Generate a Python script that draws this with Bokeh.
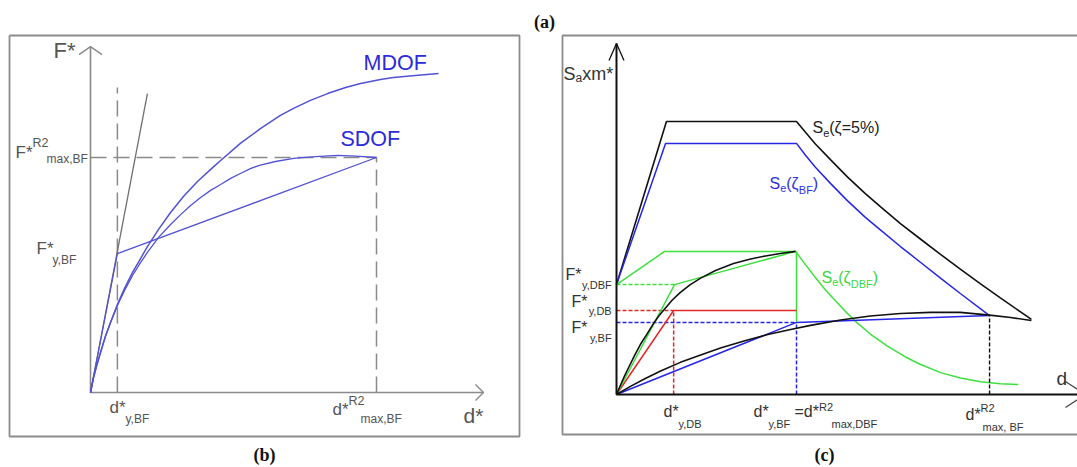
from bokeh.plotting import figure
from bokeh.models import Range1d
from bokeh.core.properties import value
from bokeh.embed import file_html
from bokeh.resources import INLINE

W, H = 1077, 467

# ---------------- Panel (b): capacity curves, F* vs d* ----------------
b_mdof_d = [0, 0.10, 0.21, 0.35, 0.52, 0.70, 0.94, 1.19, 1.47, 1.75, 1.99, 2.38, 2.80, 3.25,
            3.74, 4.27, 4.55, 5.24, 5.94, 6.64, 7.10, 7.69, 8.29, 8.92, 9.44, 10.14, 10.59,
            11.36, 12.17]
b_mdof_F = [0, 0.60, 1.11, 1.70, 2.38, 2.98, 3.74, 4.43, 5.11, 5.70, 6.21, 6.94, 7.66, 8.34,
            8.98, 9.57, 9.87, 10.60, 11.23, 11.79, 12.09, 12.43, 12.72, 12.98, 13.15, 13.32,
            13.40, 13.49, 13.57]
b_sdof_d = [0, 0.10, 0.21, 0.35, 0.52, 0.70, 0.94, 1.19, 1.47, 1.75, 1.99, 2.38, 2.80, 3.15,
            3.50, 3.85, 4.20, 4.55, 4.90, 5.24, 5.59, 5.94, 6.47, 7.10, 7.87, 8.64, 9.27, 10.0]
b_sdof_F = [0, 0.60, 1.11, 1.70, 2.38, 2.98, 3.70, 4.34, 4.98, 5.53, 5.96, 6.60, 7.15, 7.57,
            7.96, 8.30, 8.60, 8.85, 9.11, 9.32, 9.53, 9.68, 9.83, 9.96, 10.04, 10.09, 10.06, 10.0]
b_bilin_d = [0, 0.94, 10.0]
b_bilin_F = [0, 5.91, 10.0]
b_elastic_d = [0, 1.99]
b_elastic_F = [0, 12.72]
b_dy, b_dmax = 0.94, 10.0
b_Fmax = 10.0
b_guide_top = 12.98
b_axis_d_end, b_axis_F_end = 13.74, 14.72

# ---------------- Panel (c): spectra and capacity curves ----------------
c_se5_d = [0, 1.11, 4.0, 4.20, 4.42, 4.76, 5.13, 5.53, 5.87, 6.31, 6.76, 7.20, 7.64, 8.09, 8.53, 9.22]
c_se5_F = [4.07, 10.11, 10.11, 9.71, 9.28, 8.69, 8.06, 7.44, 6.95, 6.33, 5.75, 5.19, 4.64, 4.10, 3.58, 2.78]
c_sebf_d = [0, 1.09, 4.0, 4.20, 4.42, 4.76, 5.13, 5.53, 5.87, 6.31, 6.76, 7.20, 7.64, 8.29]
c_sebf_F = [4.07, 9.30, 9.30, 8.86, 8.42, 7.81, 7.18, 6.56, 6.09, 5.48, 4.89, 4.31, 3.74, 2.92]
c_sedbf_d = [0, 1.07, 3.98, 4.20, 4.42, 4.64, 4.87, 5.09, 5.31, 5.64, 6.02, 6.42, 6.76, 7.20,
             7.64, 8.09, 8.53, 8.93]
c_sedbf_F = [4.07, 5.30, 5.30, 4.81, 4.33, 3.88, 3.46, 3.07, 2.71, 2.24, 1.79, 1.39, 1.11, 0.81,
             0.61, 0.47, 0.40, 0.37]
c_push_dbf_d = [0, 0.09, 0.18, 0.27, 0.40, 0.53, 0.67, 0.80, 0.93, 1.07, 1.24, 1.42, 1.64, 1.87,
                2.20, 2.60, 2.98, 3.31, 3.64, 3.98]
c_push_dbf_F = [0, 0.35, 0.69, 1.00, 1.44, 1.85, 2.22, 2.57, 2.89, 3.17, 3.50, 3.78, 4.07, 4.31,
                4.59, 4.85, 5.02, 5.13, 5.22, 5.30]
c_push_bf_d = [0, 0.31, 0.64, 0.98, 1.42, 1.87, 2.31, 2.87, 3.36, 3.87, 4.31, 4.98, 5.64, 6.31,
               6.98, 7.64, 8.29, 8.76, 9.22]
c_push_bf_F = [0, 0.30, 0.59, 0.87, 1.19, 1.46, 1.72, 2.00, 2.22, 2.41, 2.56, 2.76, 2.91, 3.00,
               3.04, 3.04, 2.94, 2.85, 2.74]
c_bil_dbf_d = [0, 1.29, 3.98]
c_bil_dbf_F = [0, 4.07, 5.30]
c_bil_db_d = [0, 1.27, 4.0]
c_bil_db_F = [0, 3.11, 3.11]
c_bil_bf_d = [0, 4.0, 8.29]
c_bil_bf_F = [0, 2.67, 2.93]
c_dy_db, c_Fy_db = 1.27, 3.11
c_dy_dbf, c_Fy_dbf = 1.29, 4.07
c_dy_bf, c_Fy_bf = 4.0, 2.67
c_dmax_bf, c_Fmax_bf = 8.29, 2.93
c_dbf_peak = 5.30
c_axis_d_end, c_axis_F_end = 10.42, 13.0

# ---------------- layout (page pixels) ----------------
B_OX, B_OY, B_SX, B_SY = 90, 392, 28.6, 23.5
C_OX, C_OY, C_SX, C_SY = 616, 394, 45.0, 27.0

p = figure(width=W, height=H, output_backend="svg", toolbar_location=None,
           x_range=Range1d(0, W), y_range=Range1d(H, 0),
           x_axis_type=None, y_axis_type=None, min_border=0,
           outline_line_color=None, background_fill_color="white",
           border_fill_color="white")
p.grid.visible = False
p.extra_x_ranges = {"bx": Range1d(-B_OX / B_SX, (W - B_OX) / B_SX),
                    "cx": Range1d(-C_OX / C_SX, (W - C_OX) / C_SX)}
p.extra_y_ranges = {"by": Range1d((B_OY - H) / B_SY, B_OY / B_SY),
                    "cy": Range1d((C_OY - H) / C_SY, C_OY / C_SY)}

# panel frames
p.line([9, 519, 519, 9, 9], [35, 35, 436, 436, 35], line_color="#8c8c8c", line_width=1.8)
p.line([1095, 562, 562, 1095], [35, 35, 434, 434], line_color="#8c8c8c", line_width=1.8)


def bline(x, y, **kw):
    p.line(x, y, x_range_name="bx", y_range_name="by", **kw)


def cline(x, y, **kw):
    p.line(x, y, x_range_name="cx", y_range_name="cy", **kw)


def arrow(fn, sx, sy, tx, ty, dx, dy, length, half, **kw):
    bx, by = -dx * length, -dy * length
    nx, ny = -dy * half, dx * half
    pts = [(bx + nx, by + ny), (0, 0), (bx - nx, by - ny)]
    fn([tx + px / sx for px, _ in pts], [ty - py / sy for _, py in pts], **kw)


# ---- panel b ----
GRAY = "#8a8a8a"
bline([0, b_axis_d_end], [0, 0], line_color=GRAY, line_width=1.6)
bline([0, 0], [0, b_axis_F_end], line_color=GRAY, line_width=1.6)
arrow(bline, B_SX, B_SY, 0, b_axis_F_end, 0, -1, 8, 11.5, line_color=GRAY, line_width=1.4)
arrow(bline, B_SX, B_SY, b_axis_d_end, 0, 1, 0, 8, 8, line_color=GRAY, line_width=1.4)
bline([b_dy, b_dy], [0, b_guide_top], line_color=GRAY, line_width=1.5, line_dash="16 7")
bline([0, b_dmax], [b_Fmax, b_Fmax], line_color=GRAY, line_width=1.5, line_dash="16 7")
bline([b_dmax, b_dmax], [0, b_Fmax], line_color=GRAY, line_width=1.5, line_dash="16 7")
bline(b_elastic_d, b_elastic_F, line_color="#707070", line_width=1.3)
BLUEB = "#5252d4"
bline(b_mdof_d, b_mdof_F, line_color=BLUEB, line_width=1.5)
bline(b_sdof_d, b_sdof_F, line_color=BLUEB, line_width=1.3)
bline(b_bilin_d, b_bilin_F, line_color=BLUEB, line_width=1.3)

# ---- panel c ----
BLK, BLU, GRN, RED = "#111111", "#2626e6", "#3ee03e", "#e02828"
cline(c_se5_d, c_se5_F, line_color=BLK, line_width=1.6)
cline(c_sebf_d, c_sebf_F, line_color=BLU, line_width=1.5)
cline(c_sedbf_d, c_sedbf_F, line_color=GRN, line_width=1.5)
cline([c_dy_bf, c_dy_bf], [c_dbf_peak, c_Fy_bf], line_color=GRN, line_width=1.5)
cline([0, c_dy_dbf], [c_Fy_dbf, c_Fy_dbf], line_color=GRN, line_width=1.5, line_dash="4 2")
cline([0, c_dy_db], [c_Fy_db, c_Fy_db], line_color=RED, line_width=1.5, line_dash="4 2")
cline([c_dy_db, c_dy_db], [0, c_Fy_db], line_color=RED, line_width=1.5, line_dash="4 2")
cline([0, c_dy_bf], [c_Fy_bf, c_Fy_bf], line_color=BLU, line_width=1.5, line_dash="4 2")
cline([c_dy_bf, c_dy_bf], [0, c_Fy_bf], line_color=BLU, line_width=1.5, line_dash="4 2")
cline([c_dmax_bf, c_dmax_bf], [0, c_Fmax_bf], line_color=BLK, line_width=1.4, line_dash="4 2")
cline(c_bil_db_d, c_bil_db_F, line_color=RED, line_width=1.5)
cline(c_bil_dbf_d, c_bil_dbf_F, line_color=GRN, line_width=1.5)
cline(c_bil_bf_d, c_bil_bf_F, line_color=BLU, line_width=1.5)
cline(c_push_dbf_d, c_push_dbf_F, line_color=BLK, line_width=1.6)
cline(c_push_bf_d, c_push_bf_F, line_color=BLK, line_width=1.6)
cline([0, c_axis_d_end], [0, 0], line_color=BLK, line_width=2)
cline([0, 0], [0, c_axis_F_end], line_color=BLK, line_width=2)
arrow(cline, C_SX, C_SY, 0, c_axis_F_end, 0, -1, 17, 7.5, line_color=BLK, line_width=1.3)
arrow(cline, C_SX, C_SY, c_axis_d_end, 0, 1, 0, 20, 13, line_color="#444444", line_width=1.3)

# ---------------- texts ----------------
CW = {"F": .611, "*": .389, "R": .722, "2": .556, "m": .833, "a": .556, "x": .5, ",": .278,
      "B": .667, "y": .5, "d": .556, "D": .722, "S": .667, "e": .556, "(": .333, ")": .333,
      "ζ": .45, "=": .584, "5": .556, "%": .889, " ": .278, "M": .833, "O": .778}


def tw(s, size):
    return sum(CW.get(ch, .55) for ch in s) * size


def rich(x0, parts, color, align="left"):
    # parts: (text, font size px, baseline y px)
    total = sum(tw(t, s) for t, s, _ in parts)
    x = x0 - total if align == "right" else x0
    for t, s, yb in parts:
        p.text(x=[x], y=[yb - 0.36 * s], text=[t], text_font=value("Liberation Sans"),
               text_font_size=f"{s}px", text_color=color, text_align="left",
               text_baseline="middle")
        x += tw(t, s)


def caption(xc, ymid, s):
    p.text(x=[xc], y=[ymid], text=[s], text_font=value("Liberation Serif"),
           text_font_size="18px", text_font_style="bold", text_color="#111111",
           text_align="center", text_baseline="middle")


LB = "#555555"
rich(53, [("F*", 22, 58)], LB)
rich(15, [("F*", 17, 158), ("R2", 12.5, 147)], LB)
rich(46, [("max,BF", 12, 163)], LB)
rich(36, [("F*", 17, 254)], LB)
rich(52, [("y,BF", 12, 264)], LB)
rich(109, [("d*", 17, 413)], LB)
rich(125, [("y,BF", 12, 423)], LB)
rich(332, [("d*", 17, 415), ("R2", 12.5, 405)], LB)
rich(360, [("max,BF", 12, 423)], LB)
rich(463, [("d*", 21, 423)], LB)
rich(363, [("MDOF", 21.5, 70)], "#2b2bd9")
rich(340, [("SDOF", 21.5, 146)], "#2b2bd9")

LC = "#333333"
rich(563, [("S", 18, 80), ("a", 12, 82), ("xm*", 18, 80)], LC)
rich(812, [("S", 16, 133), ("e", 11, 136), ("(ζ=5%)", 16, 133)], "#222222")
rich(769, [("S", 16, 189), ("e", 11, 191), ("(ζ", 16, 189), ("BF", 11, 193), (")", 16, 189)], "#2f2fe0")
rich(821, [("S", 16, 283), ("e", 11, 285), ("(ζ", 16, 283), ("DBF", 11, 287), (")", 16, 283)], "#3ed83e")
rich(612, [("y,DBF", 11, 288)], LC, align="right")
rich(581, [("F*", 16, 280)], LC, align="right")
rich(612, [("y,DB", 11, 314)], LC, align="right")
rich(587, [("F*", 16, 307)], LC, align="right")
rich(612, [("y,BF", 11, 341)], LC, align="right")
rich(587, [("F*", 16, 333)], LC, align="right")
rich(663, [("d*", 16, 417)], LC)
rich(678, [("y,DB", 11, 427)], LC)
rich(753, [("d*", 16, 417)], LC)
rich(768, [("y,BF", 11, 427)], LC)
rich(794, [("=d*", 16, 417), ("R2", 11, 410)], LC)
rich(831, [("max,DBF", 11, 427)], LC)
rich(965, [("d*", 16, 420), ("R2", 11, 411)], LC)
rich(982, [("max, BF", 11, 430)], LC)
rich(1056, [("d", 19, 385)], LC)

caption(544, 21, "(a)")
caption(264, 454, "(b)")
caption(824, 454, "(c)")

open("out.html", "w").write(file_html(p, INLINE))
